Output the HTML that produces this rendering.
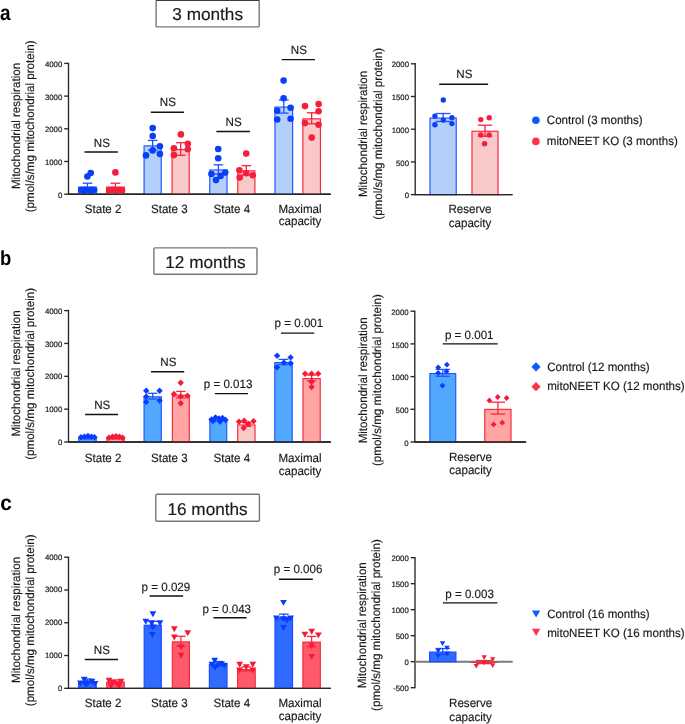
<!DOCTYPE html><html><head><meta charset="utf-8"><style>html,body{margin:0;padding:0;background:#fff;}svg{display:block;will-change:transform;text-rendering:geometricPrecision;}</style></head><body>
<svg width="685" height="724" viewBox="0 0 685 724" font-family='"Liberation Sans", sans-serif'>
<rect width="685" height="724" fill="#fff"/>
<text x="0" y="20.1" font-size="21.5" text-anchor="start" font-weight="bold" fill="#000"  transform="scale(0.88,1)">a</text>
<rect x="156.1" y="0.3" width="103.1" height="26.599999999999998" rx="1" fill="#fff" stroke="#777" stroke-width="1.4"/>
<text x="207.64999999999998" y="20.3" font-size="17.2" text-anchor="middle" font-weight="normal" fill="#1a1a1a" stroke="#1a1a1a" stroke-width="0.16" >3 months</text>
<line x1="156.1" y1="0.5" x2="259.2" y2="0.5" stroke="#3c3c3c" stroke-width="1.0"/>
<text font-size="12.0" fill="#1a1a1a" stroke="#1a1a1a" stroke-width="0.16" text-anchor="middle" transform="translate(19.9,126.0) rotate(-90) scale(0.965,1)">Mitochondrial respiration</text>
<text font-size="12.0" fill="#1a1a1a" stroke="#1a1a1a" stroke-width="0.16" text-anchor="middle" transform="translate(33.7,126.4) rotate(-90) scale(0.965,1)">(pmol/s/mg mitochondrial protein)</text>
<line x1="68.5" y1="62.8" x2="68.5" y2="194.79999999999998" stroke="#262626" stroke-width="1.35"/>
<line x1="64.2" y1="194.2" x2="68.5" y2="194.2" stroke="#262626" stroke-width="1.35"/>
<text x="62.3" y="197.79999999999998" font-size="7.8" text-anchor="end" font-weight="normal" fill="#222"  stroke="#222" stroke-width="0.2">0</text>
<line x1="64.2" y1="161.5" x2="68.5" y2="161.5" stroke="#262626" stroke-width="1.35"/>
<text x="62.3" y="165.1" font-size="7.8" text-anchor="end" font-weight="normal" fill="#222"  stroke="#222" stroke-width="0.2">1000</text>
<line x1="64.2" y1="128.79999999999998" x2="68.5" y2="128.79999999999998" stroke="#262626" stroke-width="1.35"/>
<text x="62.3" y="132.39999999999998" font-size="7.8" text-anchor="end" font-weight="normal" fill="#222"  stroke="#222" stroke-width="0.2">2000</text>
<line x1="64.2" y1="96.09999999999998" x2="68.5" y2="96.09999999999998" stroke="#262626" stroke-width="1.35"/>
<text x="62.3" y="99.69999999999997" font-size="7.8" text-anchor="end" font-weight="normal" fill="#222"  stroke="#222" stroke-width="0.2">3000</text>
<line x1="64.2" y1="63.39999999999998" x2="68.5" y2="63.39999999999998" stroke="#262626" stroke-width="1.35"/>
<text x="62.3" y="66.99999999999997" font-size="7.8" text-anchor="end" font-weight="normal" fill="#222"  stroke="#222" stroke-width="0.2">4000</text>
<line x1="68.5" y1="194.2" x2="330.7" y2="194.2" stroke="#262626" stroke-width="1.35"/>
<rect x="78.675" y="187.075" width="17.550000000000004" height="7.1249999999999885" fill="#b3d0fa" stroke="#2050ff" stroke-width="1.15"/>
<line x1="87.44999999999999" y1="183.2" x2="87.44999999999999" y2="189.8" stroke="#2050ff" stroke-width="1.3"/>
<line x1="82.588" y1="183.2" x2="92.31199999999998" y2="183.2" stroke="#2050ff" stroke-width="1.3"/>
<line x1="82.588" y1="189.8" x2="92.31199999999998" y2="189.8" stroke="#2050ff" stroke-width="1.3"/>
<circle cx="90.7" cy="173" r="3.3" fill="#0a40f5"/>
<circle cx="87.4" cy="176.5" r="3.3" fill="#0a40f5"/>
<circle cx="81.3" cy="190" r="3.3" fill="#0a40f5"/>
<circle cx="84.5" cy="189.8" r="3.3" fill="#0a40f5"/>
<circle cx="88" cy="190" r="3.3" fill="#0a40f5"/>
<circle cx="91" cy="189.8" r="3.3" fill="#0a40f5"/>
<circle cx="94.2" cy="190" r="3.3" fill="#0a40f5"/>
<circle cx="84" cy="191" r="3.3" fill="#0a40f5"/>
<circle cx="91" cy="191" r="3.3" fill="#0a40f5"/>
<rect x="106.575" y="187.075" width="17.65" height="7.1249999999999885" fill="#f9c9c9" stroke="#f7223c" stroke-width="1.15"/>
<line x1="115.4" y1="183.2" x2="115.4" y2="189.8" stroke="#f7223c" stroke-width="1.3"/>
<line x1="110.512" y1="183.2" x2="120.28800000000001" y2="183.2" stroke="#f7223c" stroke-width="1.3"/>
<line x1="110.512" y1="189.8" x2="120.28800000000001" y2="189.8" stroke="#f7223c" stroke-width="1.3"/>
<circle cx="115.4" cy="172.4" r="3.3" fill="#f51f3c"/>
<circle cx="109.2" cy="190.3" r="3.3" fill="#f51f3c"/>
<circle cx="112.5" cy="190" r="3.3" fill="#f51f3c"/>
<circle cx="116" cy="190.5" r="3.3" fill="#f51f3c"/>
<circle cx="119" cy="190" r="3.3" fill="#f51f3c"/>
<circle cx="122" cy="190.3" r="3.3" fill="#f51f3c"/>
<rect x="144.075" y="145.875" width="17.150000000000013" height="48.324999999999974" fill="#b3d0fa" stroke="#2050ff" stroke-width="1.15"/>
<line x1="152.65" y1="140.4" x2="152.65" y2="150.20000000000002" stroke="#2050ff" stroke-width="1.3"/>
<line x1="147.892" y1="140.4" x2="157.40800000000002" y2="140.4" stroke="#2050ff" stroke-width="1.3"/>
<line x1="147.892" y1="150.20000000000002" x2="157.40800000000002" y2="150.20000000000002" stroke="#2050ff" stroke-width="1.3"/>
<circle cx="152.7" cy="128.1" r="3.3" fill="#0a40f5"/>
<circle cx="152.7" cy="136" r="3.3" fill="#0a40f5"/>
<circle cx="159.9" cy="146.2" r="3.3" fill="#0a40f5"/>
<circle cx="152.7" cy="150.4" r="3.3" fill="#0a40f5"/>
<circle cx="146" cy="155.4" r="3.3" fill="#0a40f5"/>
<circle cx="159.9" cy="153.9" r="3.3" fill="#0a40f5"/>
<rect x="172.075" y="149.575" width="17.150000000000013" height="44.624999999999986" fill="#f9c9c9" stroke="#f7223c" stroke-width="1.15"/>
<line x1="180.65" y1="142.7" x2="180.65" y2="155.3" stroke="#f7223c" stroke-width="1.3"/>
<line x1="175.892" y1="142.7" x2="185.40800000000002" y2="142.7" stroke="#f7223c" stroke-width="1.3"/>
<line x1="175.892" y1="155.3" x2="185.40800000000002" y2="155.3" stroke="#f7223c" stroke-width="1.3"/>
<circle cx="180.9" cy="134.4" r="3.3" fill="#f51f3c"/>
<circle cx="187.8" cy="143.8" r="3.3" fill="#f51f3c"/>
<circle cx="173.9" cy="148.2" r="3.3" fill="#f51f3c"/>
<circle cx="187.8" cy="149.3" r="3.3" fill="#f51f3c"/>
<circle cx="173.9" cy="155.1" r="3.3" fill="#f51f3c"/>
<rect x="209.77499999999998" y="169.975" width="17.250000000000007" height="24.224999999999984" fill="#b3d0fa" stroke="#2050ff" stroke-width="1.15"/>
<line x1="218.39999999999998" y1="164.8" x2="218.39999999999998" y2="174.0" stroke="#2050ff" stroke-width="1.3"/>
<line x1="213.61599999999999" y1="164.8" x2="223.18399999999997" y2="164.8" stroke="#2050ff" stroke-width="1.3"/>
<line x1="213.61599999999999" y1="174.0" x2="223.18399999999997" y2="174.0" stroke="#2050ff" stroke-width="1.3"/>
<circle cx="218.2" cy="149" r="3.3" fill="#0a40f5"/>
<circle cx="218.2" cy="158.2" r="3.3" fill="#0a40f5"/>
<circle cx="211.4" cy="174" r="3.3" fill="#0a40f5"/>
<circle cx="225.2" cy="172.6" r="3.3" fill="#0a40f5"/>
<circle cx="220.6" cy="175.9" r="3.3" fill="#0a40f5"/>
<circle cx="216" cy="180.1" r="3.3" fill="#0a40f5"/>
<rect x="237.77499999999998" y="170.875" width="17.150000000000013" height="23.324999999999978" fill="#f9c9c9" stroke="#f7223c" stroke-width="1.15"/>
<line x1="246.35" y1="165.7" x2="246.35" y2="174.90000000000003" stroke="#f7223c" stroke-width="1.3"/>
<line x1="241.59199999999998" y1="165.7" x2="251.108" y2="165.7" stroke="#f7223c" stroke-width="1.3"/>
<line x1="241.59199999999998" y1="174.90000000000003" x2="251.108" y2="174.90000000000003" stroke="#f7223c" stroke-width="1.3"/>
<circle cx="246.2" cy="153.6" r="3.3" fill="#f51f3c"/>
<circle cx="239.4" cy="170.3" r="3.3" fill="#f51f3c"/>
<circle cx="246.2" cy="173.3" r="3.3" fill="#f51f3c"/>
<circle cx="252.8" cy="175.3" r="3.3" fill="#f51f3c"/>
<circle cx="239.7" cy="177.6" r="3.3" fill="#f51f3c"/>
<rect x="274.97499999999997" y="107.075" width="17.650000000000013" height="87.12499999999999" fill="#b3d0fa" stroke="#2050ff" stroke-width="1.15"/>
<line x1="283.79999999999995" y1="99.9" x2="283.79999999999995" y2="113.1" stroke="#2050ff" stroke-width="1.3"/>
<line x1="278.912" y1="99.9" x2="288.68799999999993" y2="99.9" stroke="#2050ff" stroke-width="1.3"/>
<line x1="278.912" y1="113.1" x2="288.68799999999993" y2="113.1" stroke="#2050ff" stroke-width="1.3"/>
<circle cx="283.6" cy="80.6" r="3.3" fill="#0a40f5"/>
<circle cx="283.6" cy="98.3" r="3.3" fill="#0a40f5"/>
<circle cx="290.6" cy="107.8" r="3.3" fill="#0a40f5"/>
<circle cx="277.2" cy="110.7" r="3.3" fill="#0a40f5"/>
<circle cx="277.2" cy="119.5" r="3.3" fill="#0a40f5"/>
<circle cx="290.6" cy="118.8" r="3.3" fill="#0a40f5"/>
<rect x="302.875" y="118.875" width="17.54999999999999" height="75.32499999999999" fill="#f9c9c9" stroke="#f7223c" stroke-width="1.15"/>
<line x1="311.65" y1="112.8" x2="311.65" y2="123.8" stroke="#f7223c" stroke-width="1.3"/>
<line x1="306.78799999999995" y1="112.8" x2="316.512" y2="112.8" stroke="#f7223c" stroke-width="1.3"/>
<line x1="306.78799999999995" y1="123.8" x2="316.512" y2="123.8" stroke="#f7223c" stroke-width="1.3"/>
<circle cx="305" cy="106.1" r="3.3" fill="#f51f3c"/>
<circle cx="318.6" cy="104.1" r="3.3" fill="#f51f3c"/>
<circle cx="318.6" cy="111.2" r="3.3" fill="#f51f3c"/>
<circle cx="305" cy="123.1" r="3.3" fill="#f51f3c"/>
<circle cx="318.6" cy="124.8" r="3.3" fill="#f51f3c"/>
<circle cx="311.7" cy="137.6" r="3.3" fill="#f51f3c"/>
<line x1="84.5" y1="152" x2="117.9" y2="152" stroke="#111" stroke-width="1.4"/>
<text x="0" y="0" transform="translate(101.8,146.6) scale(0.965,1)" font-size="12.0" text-anchor="middle" font-weight="normal" fill="#1a1a1a" stroke="#1a1a1a" stroke-width="0.16" >NS</text>
<line x1="150.8" y1="112.3" x2="184.0" y2="112.3" stroke="#111" stroke-width="1.4"/>
<text x="0" y="0" transform="translate(167.8,106.3) scale(0.965,1)" font-size="12.0" text-anchor="middle" font-weight="normal" fill="#1a1a1a" stroke="#1a1a1a" stroke-width="0.16" >NS</text>
<line x1="216.4" y1="131.5" x2="249.9" y2="131.5" stroke="#111" stroke-width="1.4"/>
<text x="0" y="0" transform="translate(233.6,126.0) scale(0.965,1)" font-size="12.0" text-anchor="middle" font-weight="normal" fill="#1a1a1a" stroke="#1a1a1a" stroke-width="0.16" >NS</text>
<line x1="281.6" y1="59.6" x2="315.0" y2="59.6" stroke="#111" stroke-width="1.4"/>
<text x="0" y="0" transform="translate(298.8,53.6) scale(0.965,1)" font-size="12.0" text-anchor="middle" font-weight="normal" fill="#1a1a1a" stroke="#1a1a1a" stroke-width="0.16" >NS</text>
<line x1="68.5" y1="194.2" x2="330.7" y2="194.2" stroke="#262626" stroke-width="1.35"/>
<text x="0" y="0" transform="translate(103.1,212.7) scale(0.965,1)" font-size="12.0" text-anchor="middle" font-weight="normal" fill="#1a1a1a" stroke="#1a1a1a" stroke-width="0.16" >State 2</text>
<text x="0" y="0" transform="translate(169.3,212.7) scale(0.965,1)" font-size="12.0" text-anchor="middle" font-weight="normal" fill="#1a1a1a" stroke="#1a1a1a" stroke-width="0.16" >State 3</text>
<text x="0" y="0" transform="translate(231.8,212.7) scale(0.965,1)" font-size="12.0" text-anchor="middle" font-weight="normal" fill="#1a1a1a" stroke="#1a1a1a" stroke-width="0.16" >State 4</text>
<text x="0" y="0" transform="translate(300,212.7) scale(0.965,1)" font-size="12.0" text-anchor="middle" font-weight="normal" fill="#1a1a1a" stroke="#1a1a1a" stroke-width="0.16" >Maximal</text>
<text x="0" y="0" transform="translate(300,225.4) scale(0.965,1)" font-size="12.0" text-anchor="middle" font-weight="normal" fill="#1a1a1a" stroke="#1a1a1a" stroke-width="0.16" >capacity</text>
<text font-size="12.0" fill="#1a1a1a" stroke="#1a1a1a" stroke-width="0.16" text-anchor="middle" transform="translate(367.4,134.0) rotate(-90) scale(0.965,1)">Mitochondrial respiration</text>
<text font-size="12.0" fill="#1a1a1a" stroke="#1a1a1a" stroke-width="0.16" text-anchor="middle" transform="translate(382.0,133.8) rotate(-90) scale(0.965,1)">(pmol/s/mg mitochondrial protein)</text>
<line x1="415.2" y1="63.1" x2="415.2" y2="195.2" stroke="#262626" stroke-width="1.35"/>
<line x1="410.9" y1="194.6" x2="415.2" y2="194.6" stroke="#262626" stroke-width="1.35"/>
<text x="409.0" y="198.2" font-size="7.8" text-anchor="end" font-weight="normal" fill="#222"  stroke="#222" stroke-width="0.2">0</text>
<line x1="410.9" y1="161.89999999999998" x2="415.2" y2="161.89999999999998" stroke="#262626" stroke-width="1.35"/>
<text x="409.0" y="165.49999999999997" font-size="7.8" text-anchor="end" font-weight="normal" fill="#222"  stroke="#222" stroke-width="0.2">500</text>
<line x1="410.9" y1="129.2" x2="415.2" y2="129.2" stroke="#262626" stroke-width="1.35"/>
<text x="409.0" y="132.79999999999998" font-size="7.8" text-anchor="end" font-weight="normal" fill="#222"  stroke="#222" stroke-width="0.2">1000</text>
<line x1="410.9" y1="96.49999999999999" x2="415.2" y2="96.49999999999999" stroke="#262626" stroke-width="1.35"/>
<text x="409.0" y="100.09999999999998" font-size="7.8" text-anchor="end" font-weight="normal" fill="#222"  stroke="#222" stroke-width="0.2">1500</text>
<line x1="410.9" y1="63.79999999999998" x2="415.2" y2="63.79999999999998" stroke="#262626" stroke-width="1.35"/>
<text x="409.0" y="67.39999999999998" font-size="7.8" text-anchor="end" font-weight="normal" fill="#222"  stroke="#222" stroke-width="0.2">2000</text>
<line x1="415.2" y1="194.6" x2="512.5" y2="194.6" stroke="#262626" stroke-width="1.35"/>
<rect x="429.97499999999997" y="118.075" width="26.250000000000036" height="76.52499999999999" fill="#b3d0fa" stroke="#2050ff" stroke-width="1.15"/>
<line x1="443.1" y1="113.5" x2="443.1" y2="121.5" stroke="#2050ff" stroke-width="1.3"/>
<line x1="435.8" y1="113.5" x2="450.40000000000003" y2="113.5" stroke="#2050ff" stroke-width="1.3"/>
<line x1="435.8" y1="121.5" x2="450.40000000000003" y2="121.5" stroke="#2050ff" stroke-width="1.3"/>
<circle cx="443.3" cy="100" r="2.7" fill="#0a40f5"/>
<circle cx="434.9" cy="116.1" r="2.7" fill="#0a40f5"/>
<circle cx="451.9" cy="117.8" r="2.7" fill="#0a40f5"/>
<circle cx="443.3" cy="120.1" r="2.7" fill="#0a40f5"/>
<circle cx="434.9" cy="124.8" r="2.7" fill="#0a40f5"/>
<circle cx="451.9" cy="123.6" r="2.7" fill="#0a40f5"/>
<rect x="471.97499999999997" y="131.27499999999998" width="26.050000000000047" height="63.325" fill="#f9c9c9" stroke="#f7223c" stroke-width="1.15"/>
<line x1="485.0" y1="125.2" x2="485.0" y2="136.2" stroke="#f7223c" stroke-width="1.3"/>
<line x1="477.8" y1="125.2" x2="492.2" y2="125.2" stroke="#f7223c" stroke-width="1.3"/>
<line x1="477.8" y1="136.2" x2="492.2" y2="136.2" stroke="#f7223c" stroke-width="1.3"/>
<circle cx="480.8" cy="119.6" r="2.7" fill="#f51f3c"/>
<circle cx="489.2" cy="117.8" r="2.7" fill="#f51f3c"/>
<circle cx="480.8" cy="135" r="2.7" fill="#f51f3c"/>
<circle cx="489.2" cy="135" r="2.7" fill="#f51f3c"/>
<circle cx="484.6" cy="143.8" r="2.7" fill="#f51f3c"/>
<line x1="439.2" y1="84.3" x2="488.1" y2="84.3" stroke="#111" stroke-width="1.4"/>
<text x="0" y="0" transform="translate(464.4,78.1) scale(0.965,1)" font-size="12.0" text-anchor="middle" font-weight="normal" fill="#1a1a1a" stroke="#1a1a1a" stroke-width="0.16" >NS</text>
<line x1="415.2" y1="194.6" x2="512.5" y2="194.6" stroke="#262626" stroke-width="1.35"/>
<text x="0" y="0" transform="translate(470,213) scale(0.965,1)" font-size="12.0" text-anchor="middle" font-weight="normal" fill="#1a1a1a" stroke="#1a1a1a" stroke-width="0.16" >Reserve</text>
<text x="0" y="0" transform="translate(470,226.6) scale(0.965,1)" font-size="12.0" text-anchor="middle" font-weight="normal" fill="#1a1a1a" stroke="#1a1a1a" stroke-width="0.16" >capacity</text>
<circle cx="535.9" cy="120.2" r="3.8" fill="#0a5cff"/>
<circle cx="535.9" cy="141.4" r="3.8" fill="#ff3346"/>
<text x="0" y="0" transform="translate(546.8,124.3) scale(0.965,1)" font-size="12.0" text-anchor="start" font-weight="normal" fill="#1a1a1a" stroke="#1a1a1a" stroke-width="0.16" >Control (3 months)</text>
<text x="0" y="0" transform="translate(546.8,144.7) scale(0.965,1)" font-size="12.0" text-anchor="start" font-weight="normal" fill="#1a1a1a" stroke="#1a1a1a" stroke-width="0.16" >mitoNEET KO (3 months)</text>
<text x="0" y="265" font-size="20.5" text-anchor="start" font-weight="bold" fill="#000"  transform="scale(0.9,1)">b</text>
<rect x="153.9" y="247.9" width="103.1" height="26.299999999999983" rx="1" fill="#fff" stroke="#777" stroke-width="1.4"/>
<text x="205.45" y="267.6" font-size="17.2" text-anchor="middle" font-weight="normal" fill="#1a1a1a" stroke="#1a1a1a" stroke-width="0.16" >12 months</text>
<text font-size="12.0" fill="#1a1a1a" stroke="#1a1a1a" stroke-width="0.16" text-anchor="middle" transform="translate(19.9,373.5) rotate(-90) scale(0.965,1)">Mitochondrial respiration</text>
<text font-size="12.0" fill="#1a1a1a" stroke="#1a1a1a" stroke-width="0.16" text-anchor="middle" transform="translate(33.7,373.9) rotate(-90) scale(0.965,1)">(pmol/s/mg mitochondrial protein)</text>
<line x1="68.5" y1="309.9" x2="68.5" y2="442.6" stroke="#262626" stroke-width="1.35"/>
<line x1="64.2" y1="442.0" x2="68.5" y2="442.0" stroke="#262626" stroke-width="1.35"/>
<text x="62.3" y="445.1" font-size="7.8" text-anchor="end" font-weight="normal" fill="#222"  stroke="#222" stroke-width="0.2">0</text>
<line x1="64.2" y1="409.15" x2="68.5" y2="409.15" stroke="#262626" stroke-width="1.35"/>
<text x="62.3" y="412.25" font-size="7.8" text-anchor="end" font-weight="normal" fill="#222"  stroke="#222" stroke-width="0.2">1000</text>
<line x1="64.2" y1="376.3" x2="68.5" y2="376.3" stroke="#262626" stroke-width="1.35"/>
<text x="62.3" y="379.40000000000003" font-size="7.8" text-anchor="end" font-weight="normal" fill="#222"  stroke="#222" stroke-width="0.2">2000</text>
<line x1="64.2" y1="343.45" x2="68.5" y2="343.45" stroke="#262626" stroke-width="1.35"/>
<text x="62.3" y="346.55" font-size="7.8" text-anchor="end" font-weight="normal" fill="#222"  stroke="#222" stroke-width="0.2">3000</text>
<line x1="64.2" y1="310.6" x2="68.5" y2="310.6" stroke="#262626" stroke-width="1.35"/>
<text x="62.3" y="313.70000000000005" font-size="7.8" text-anchor="end" font-weight="normal" fill="#222"  stroke="#222" stroke-width="0.2">4000</text>
<line x1="68.5" y1="442.0" x2="330.8" y2="442.0" stroke="#262626" stroke-width="1.35"/>
<rect x="78.675" y="438.075" width="17.550000000000004" height="3.925" fill="#52a8ff" stroke="#1f55ff" stroke-width="1.15"/>
<line x1="87.44999999999999" y1="436" x2="87.44999999999999" y2="439.0" stroke="#1f55ff" stroke-width="1.3"/>
<line x1="82.588" y1="436" x2="92.31199999999998" y2="436" stroke="#1f55ff" stroke-width="1.3"/>
<line x1="82.588" y1="439.0" x2="92.31199999999998" y2="439.0" stroke="#1f55ff" stroke-width="1.3"/>
<path d="M81 434.1L84.2 437.3L81 440.5L77.8 437.3Z" fill="#0a3cff"/>
<path d="M84.5 433.40000000000003L87.7 436.6L84.5 439.8L81.3 436.6Z" fill="#0a3cff"/>
<path d="M88 432.8L91.2 436.0L88 439.2L84.8 436.0Z" fill="#0a3cff"/>
<path d="M91.5 433.6L94.7 436.8L91.5 440.0L88.3 436.8Z" fill="#0a3cff"/>
<path d="M94.5 434.1L97.7 437.3L94.5 440.5L91.3 437.3Z" fill="#0a3cff"/>
<rect x="106.775" y="438.075" width="17.449999999999996" height="3.925" fill="#ffa3a3" stroke="#f7283e" stroke-width="1.15"/>
<line x1="115.5" y1="436" x2="115.5" y2="439.0" stroke="#f7283e" stroke-width="1.3"/>
<line x1="110.664" y1="436" x2="120.336" y2="436" stroke="#f7283e" stroke-width="1.3"/>
<line x1="110.664" y1="439.0" x2="120.336" y2="439.0" stroke="#f7283e" stroke-width="1.3"/>
<path d="M109 434.6L112.2 437.8L109 441.0L105.8 437.8Z" fill="#f71a38"/>
<path d="M112.5 433.6L115.7 436.8L112.5 440.0L109.3 436.8Z" fill="#f71a38"/>
<path d="M116 433.1L119.2 436.3L116 439.5L112.8 436.3Z" fill="#f71a38"/>
<path d="M119.5 433.6L122.7 436.8L119.5 440.0L116.3 436.8Z" fill="#f71a38"/>
<path d="M122.5 434.6L125.7 437.8L122.5 441.0L119.3 437.8Z" fill="#f71a38"/>
<rect x="144.075" y="396.775" width="17.250000000000007" height="45.22500000000001" fill="#52a8ff" stroke="#1f55ff" stroke-width="1.15"/>
<line x1="152.7" y1="393.3" x2="152.7" y2="399.09999999999997" stroke="#1f55ff" stroke-width="1.3"/>
<line x1="147.916" y1="393.3" x2="157.48399999999998" y2="393.3" stroke="#1f55ff" stroke-width="1.3"/>
<line x1="147.916" y1="399.09999999999997" x2="157.48399999999998" y2="399.09999999999997" stroke="#1f55ff" stroke-width="1.3"/>
<path d="M146.2 387.5L149.39999999999998 390.7L146.2 393.9L143.0 390.7Z" fill="#0a3cff"/>
<path d="M159.6 387.5L162.79999999999998 390.7L159.6 393.9L156.4 390.7Z" fill="#0a3cff"/>
<path d="M146.2 393.40000000000003L149.39999999999998 396.6L146.2 399.8L143.0 396.6Z" fill="#0a3cff"/>
<path d="M159.6 397.40000000000003L162.79999999999998 400.6L159.6 403.8L156.4 400.6Z" fill="#0a3cff"/>
<path d="M146.2 398.7L149.39999999999998 401.9L146.2 405.09999999999997L143.0 401.9Z" fill="#0a3cff"/>
<rect x="172.375" y="395.175" width="16.949999999999996" height="46.824999999999974" fill="#ffa3a3" stroke="#f7283e" stroke-width="1.15"/>
<line x1="180.85000000000002" y1="391.4" x2="180.85000000000002" y2="397.80000000000007" stroke="#f7283e" stroke-width="1.3"/>
<line x1="176.14400000000003" y1="391.4" x2="185.556" y2="391.4" stroke="#f7283e" stroke-width="1.3"/>
<line x1="176.14400000000003" y1="397.80000000000007" x2="185.556" y2="397.80000000000007" stroke="#f7283e" stroke-width="1.3"/>
<path d="M180.7 379.6L183.89999999999998 382.8L180.7 386.0L177.5 382.8Z" fill="#f71a38"/>
<path d="M174 390.8L177.2 394L174 397.2L170.8 394Z" fill="#f71a38"/>
<path d="M187.5 392.5L190.7 395.7L187.5 398.9L184.3 395.7Z" fill="#f71a38"/>
<path d="M180.7 393.40000000000003L183.89999999999998 396.6L180.7 399.8L177.5 396.6Z" fill="#f71a38"/>
<path d="M180.7 400.0L183.89999999999998 403.2L180.7 406.4L177.5 403.2Z" fill="#f71a38"/>
<rect x="209.875" y="420.075" width="16.85" height="21.925" fill="#52a8ff" stroke="#1f55ff" stroke-width="1.15"/>
<line x1="218.3" y1="418" x2="218.3" y2="421.0" stroke="#1f55ff" stroke-width="1.3"/>
<line x1="213.62" y1="418" x2="222.98000000000002" y2="418" stroke="#1f55ff" stroke-width="1.3"/>
<line x1="213.62" y1="421.0" x2="222.98000000000002" y2="421.0" stroke="#1f55ff" stroke-width="1.3"/>
<path d="M211.5 416.3L214.7 419.5L211.5 422.7L208.3 419.5Z" fill="#0a3cff"/>
<path d="M215.5 414.3L218.7 417.5L215.5 420.7L212.3 417.5Z" fill="#0a3cff"/>
<path d="M219 415.3L222.2 418.5L219 421.7L215.8 418.5Z" fill="#0a3cff"/>
<path d="M222.5 414.8L225.7 418L222.5 421.2L219.3 418Z" fill="#0a3cff"/>
<path d="M225.5 416.8L228.7 420L225.5 423.2L222.3 420Z" fill="#0a3cff"/>
<path d="M213 417.8L216.2 421L213 424.2L209.8 421Z" fill="#0a3cff"/>
<path d="M220 418.3L223.2 421.5L220 424.7L216.8 421.5Z" fill="#0a3cff"/>
<rect x="237.67499999999998" y="424.97499999999997" width="17.35" height="17.025000000000023" fill="#f9caca" stroke="#f7283e" stroke-width="1.15"/>
<line x1="246.35" y1="422.5" x2="246.35" y2="426.29999999999995" stroke="#f7283e" stroke-width="1.3"/>
<line x1="241.54" y1="422.5" x2="251.16" y2="422.5" stroke="#f7283e" stroke-width="1.3"/>
<line x1="241.54" y1="426.29999999999995" x2="251.16" y2="426.29999999999995" stroke="#f7283e" stroke-width="1.3"/>
<path d="M239 418.6L242.2 421.8L239 425.0L235.8 421.8Z" fill="#f71a38"/>
<path d="M244.2 417.5L247.39999999999998 420.7L244.2 423.9L241.0 420.7Z" fill="#f71a38"/>
<path d="M248.3 420.6L251.5 423.8L248.3 427.0L245.10000000000002 423.8Z" fill="#f71a38"/>
<path d="M253.5 418.1L256.7 421.3L253.5 424.5L250.3 421.3Z" fill="#f71a38"/>
<path d="M243.7 424.8L246.89999999999998 428L243.7 431.2L240.5 428Z" fill="#f71a38"/>
<rect x="274.775" y="362.575" width="17.450000000000024" height="79.425" fill="#52a8ff" stroke="#1f55ff" stroke-width="1.15"/>
<line x1="283.5" y1="359.4" x2="283.5" y2="364.6" stroke="#1f55ff" stroke-width="1.3"/>
<line x1="278.664" y1="359.4" x2="288.336" y2="359.4" stroke="#1f55ff" stroke-width="1.3"/>
<line x1="278.664" y1="364.6" x2="288.336" y2="364.6" stroke="#1f55ff" stroke-width="1.3"/>
<path d="M277.1 352.5L280.3 355.7L277.1 358.9L273.90000000000003 355.7Z" fill="#0a3cff"/>
<path d="M290.6 354.2L293.8 357.4L290.6 360.59999999999997L287.40000000000003 357.4Z" fill="#0a3cff"/>
<path d="M284 359.40000000000003L287.2 362.6L284 365.8L280.8 362.6Z" fill="#0a3cff"/>
<path d="M290.6 360.1L293.8 363.3L290.6 366.5L287.40000000000003 363.3Z" fill="#0a3cff"/>
<path d="M277.1 364.0L280.3 367.2L277.1 370.4L273.90000000000003 367.2Z" fill="#0a3cff"/>
<rect x="302.97499999999997" y="378.575" width="17.250000000000036" height="63.425" fill="#ffa3a3" stroke="#f7283e" stroke-width="1.15"/>
<line x1="311.6" y1="375.1" x2="311.6" y2="380.9" stroke="#f7283e" stroke-width="1.3"/>
<line x1="306.81600000000003" y1="375.1" x2="316.384" y2="375.1" stroke="#f7283e" stroke-width="1.3"/>
<line x1="306.81600000000003" y1="380.9" x2="316.384" y2="380.9" stroke="#f7283e" stroke-width="1.3"/>
<path d="M305.1 370.6L308.3 373.8L305.1 377.0L301.90000000000003 373.8Z" fill="#f71a38"/>
<path d="M311.6 370.6L314.8 373.8L311.6 377.0L308.40000000000003 373.8Z" fill="#f71a38"/>
<path d="M318.2 370.6L321.4 373.8L318.2 377.0L315.0 373.8Z" fill="#f71a38"/>
<path d="M311.6 378.5L314.8 381.7L311.6 384.9L308.40000000000003 381.7Z" fill="#f71a38"/>
<path d="M311.6 383.8L314.8 387L311.6 390.2L308.40000000000003 387Z" fill="#f71a38"/>
<line x1="85.1" y1="414.5" x2="118.1" y2="414.5" stroke="#111" stroke-width="1.4"/>
<text x="0" y="0" transform="translate(102.2,409.0) scale(0.965,1)" font-size="12.0" text-anchor="middle" font-weight="normal" fill="#1a1a1a" stroke="#1a1a1a" stroke-width="0.16" >NS</text>
<line x1="151.0" y1="371.7" x2="184.2" y2="371.7" stroke="#111" stroke-width="1.4"/>
<text x="0" y="0" transform="translate(168.3,365.8) scale(0.965,1)" font-size="12.0" text-anchor="middle" font-weight="normal" fill="#1a1a1a" stroke="#1a1a1a" stroke-width="0.16" >NS</text>
<line x1="214.9" y1="393.6" x2="248.0" y2="393.6" stroke="#111" stroke-width="1.4"/>
<text x="0" y="0" transform="translate(228.1,387.8) scale(0.965,1)" font-size="12.0" text-anchor="middle" font-weight="normal" fill="#1a1a1a" stroke="#1a1a1a" stroke-width="0.16" >p = 0.013</text>
<line x1="281.0" y1="333.1" x2="314.3" y2="333.1" stroke="#111" stroke-width="1.4"/>
<text x="0" y="0" transform="translate(298.9,327.2) scale(0.965,1)" font-size="12.0" text-anchor="middle" font-weight="normal" fill="#1a1a1a" stroke="#1a1a1a" stroke-width="0.16" >p = 0.001</text>
<line x1="68.5" y1="442.0" x2="330.8" y2="442.0" stroke="#262626" stroke-width="1.35"/>
<text x="0" y="0" transform="translate(103.1,462.1) scale(0.965,1)" font-size="12.0" text-anchor="middle" font-weight="normal" fill="#1a1a1a" stroke="#1a1a1a" stroke-width="0.16" >State 2</text>
<text x="0" y="0" transform="translate(169.3,462.1) scale(0.965,1)" font-size="12.0" text-anchor="middle" font-weight="normal" fill="#1a1a1a" stroke="#1a1a1a" stroke-width="0.16" >State 3</text>
<text x="0" y="0" transform="translate(231.8,462.1) scale(0.965,1)" font-size="12.0" text-anchor="middle" font-weight="normal" fill="#1a1a1a" stroke="#1a1a1a" stroke-width="0.16" >State 4</text>
<text x="0" y="0" transform="translate(300,462.1) scale(0.965,1)" font-size="12.0" text-anchor="middle" font-weight="normal" fill="#1a1a1a" stroke="#1a1a1a" stroke-width="0.16" >Maximal</text>
<text x="0" y="0" transform="translate(300,475.1) scale(0.965,1)" font-size="12.0" text-anchor="middle" font-weight="normal" fill="#1a1a1a" stroke="#1a1a1a" stroke-width="0.16" >capacity</text>
<text font-size="12.0" fill="#1a1a1a" stroke="#1a1a1a" stroke-width="0.16" text-anchor="middle" transform="translate(367.4,380.3) rotate(-90) scale(0.965,1)">Mitochondrial respiration</text>
<text font-size="12.0" fill="#1a1a1a" stroke="#1a1a1a" stroke-width="0.16" text-anchor="middle" transform="translate(381.3,380.1) rotate(-90) scale(0.965,1)">(pmol/s/mg mitochondrial protein)</text>
<line x1="414.8" y1="310.5" x2="414.8" y2="442.6" stroke="#262626" stroke-width="1.35"/>
<line x1="410.5" y1="442.0" x2="414.8" y2="442.0" stroke="#262626" stroke-width="1.35"/>
<text x="408.6" y="445.6" font-size="7.8" text-anchor="end" font-weight="normal" fill="#222"  stroke="#222" stroke-width="0.2">0</text>
<line x1="410.5" y1="409.3" x2="414.8" y2="409.3" stroke="#262626" stroke-width="1.35"/>
<text x="408.6" y="412.90000000000003" font-size="7.8" text-anchor="end" font-weight="normal" fill="#222"  stroke="#222" stroke-width="0.2">500</text>
<line x1="410.5" y1="376.6" x2="414.8" y2="376.6" stroke="#262626" stroke-width="1.35"/>
<text x="408.6" y="380.20000000000005" font-size="7.8" text-anchor="end" font-weight="normal" fill="#222"  stroke="#222" stroke-width="0.2">1000</text>
<line x1="410.5" y1="343.9" x2="414.8" y2="343.9" stroke="#262626" stroke-width="1.35"/>
<text x="408.6" y="347.5" font-size="7.8" text-anchor="end" font-weight="normal" fill="#222"  stroke="#222" stroke-width="0.2">1500</text>
<line x1="410.5" y1="311.2" x2="414.8" y2="311.2" stroke="#262626" stroke-width="1.35"/>
<text x="408.6" y="314.8" font-size="7.8" text-anchor="end" font-weight="normal" fill="#222"  stroke="#222" stroke-width="0.2">2000</text>
<line x1="414.8" y1="442.0" x2="526.1" y2="442.0" stroke="#262626" stroke-width="1.35"/>
<rect x="429.875" y="373.575" width="25.85" height="68.425" fill="#52a8ff" stroke="#1f55ff" stroke-width="1.15"/>
<line x1="442.8" y1="369.4" x2="442.8" y2="376.3" stroke="#1f55ff" stroke-width="1.3"/>
<line x1="435.55" y1="369.4" x2="450.05" y2="369.4" stroke="#1f55ff" stroke-width="1.3"/>
<line x1="435.55" y1="376.3" x2="450.05" y2="376.3" stroke="#1f55ff" stroke-width="1.3"/>
<path d="M446.9 361.8L449.79999999999995 364.7L446.9 367.59999999999997L444.0 364.7Z" fill="#0a3cff"/>
<path d="M438.2 364.5L441.09999999999997 367.4L438.2 370.29999999999995L435.3 367.4Z" fill="#0a3cff"/>
<path d="M438.2 370.1L441.09999999999997 373L438.2 375.9L435.3 373Z" fill="#0a3cff"/>
<path d="M446.5 368.6L449.4 371.5L446.5 374.4L443.6 371.5Z" fill="#0a3cff"/>
<path d="M442.4 382.70000000000005L445.29999999999995 385.6L442.4 388.5L439.5 385.6Z" fill="#0a3cff"/>
<rect x="484.775" y="409.375" width="26.250000000000036" height="32.624999999999986" fill="#ffa3a3" stroke="#f7283e" stroke-width="1.15"/>
<line x1="497.9" y1="402.2" x2="497.9" y2="414" stroke="#f7283e" stroke-width="1.3"/>
<line x1="490.65" y1="402.2" x2="505.15" y2="402.2" stroke="#f7283e" stroke-width="1.3"/>
<line x1="490.65" y1="414" x2="505.15" y2="414" stroke="#f7283e" stroke-width="1.3"/>
<path d="M489.4 397.6L492.29999999999995 400.5L489.4 403.4L486.5 400.5Z" fill="#f71a38"/>
<path d="M497.7 394.1L500.59999999999997 397L497.7 399.9L494.8 397Z" fill="#f71a38"/>
<path d="M506.6 395.1L509.5 398L506.6 400.9L503.70000000000005 398Z" fill="#f71a38"/>
<path d="M493.6 421.5L496.5 424.4L493.6 427.29999999999995L490.70000000000005 424.4Z" fill="#f71a38"/>
<path d="M502.3 419.8L505.2 422.7L502.3 425.59999999999997L499.40000000000003 422.7Z" fill="#f71a38"/>
<line x1="442.8" y1="343.9" x2="497.7" y2="343.9" stroke="#111" stroke-width="1.4"/>
<text x="0" y="0" transform="translate(469.2,339.0) scale(0.965,1)" font-size="12.0" text-anchor="middle" font-weight="normal" fill="#1a1a1a" stroke="#1a1a1a" stroke-width="0.16" >p = 0.001</text>
<line x1="414.8" y1="442.0" x2="526.1" y2="442.0" stroke="#262626" stroke-width="1.35"/>
<text x="0" y="0" transform="translate(470.5,460.6) scale(0.965,1)" font-size="12.0" text-anchor="middle" font-weight="normal" fill="#1a1a1a" stroke="#1a1a1a" stroke-width="0.16" >Reserve</text>
<text x="0" y="0" transform="translate(470.5,474.2) scale(0.965,1)" font-size="12.0" text-anchor="middle" font-weight="normal" fill="#1a1a1a" stroke="#1a1a1a" stroke-width="0.16" >capacity</text>
<path d="M536 362.2L540.6 366.8L536 371.40000000000003L531.4 366.8Z" fill="#0a5cff"/>
<path d="M536 382.09999999999997L540.6 386.7L536 391.3L531.4 386.7Z" fill="#ff3346"/>
<text x="0" y="0" transform="translate(547.2,371.0) scale(0.965,1)" font-size="12.0" text-anchor="start" font-weight="normal" fill="#1a1a1a" stroke="#1a1a1a" stroke-width="0.16" >Control (12 months)</text>
<text x="0" y="0" transform="translate(547.2,390.2) scale(0.965,1)" font-size="12.0" text-anchor="start" font-weight="normal" fill="#1a1a1a" stroke="#1a1a1a" stroke-width="0.16" >mitoNEET KO (12 months)</text>
<text x="0.2" y="509.9" font-size="21.5" text-anchor="start" font-weight="bold" fill="#000"  transform="scale(0.97,1)">c</text>
<rect x="155.8" y="494.3" width="103.59999999999997" height="26.900000000000034" rx="1" fill="#fff" stroke="#777" stroke-width="1.4"/>
<text x="207.6" y="514.5" font-size="17.2" text-anchor="middle" font-weight="normal" fill="#1a1a1a" stroke="#1a1a1a" stroke-width="0.16" >16 months</text>
<text font-size="12.0" fill="#1a1a1a" stroke="#1a1a1a" stroke-width="0.16" text-anchor="middle" transform="translate(19.9,619.9) rotate(-90) scale(0.965,1)">Mitochondrial respiration</text>
<text font-size="12.0" fill="#1a1a1a" stroke="#1a1a1a" stroke-width="0.16" text-anchor="middle" transform="translate(33.7,620.3) rotate(-90) scale(0.965,1)">(pmol/s/mg mitochondrial protein)</text>
<line x1="68.5" y1="556.6" x2="68.5" y2="688.9" stroke="#262626" stroke-width="1.35"/>
<line x1="64.2" y1="688.3" x2="68.5" y2="688.3" stroke="#262626" stroke-width="1.35"/>
<text x="62.3" y="690.6999999999999" font-size="7.8" text-anchor="end" font-weight="normal" fill="#222"  stroke="#222" stroke-width="0.2">0</text>
<line x1="64.2" y1="655.53" x2="68.5" y2="655.53" stroke="#262626" stroke-width="1.35"/>
<text x="62.3" y="657.93" font-size="7.8" text-anchor="end" font-weight="normal" fill="#222"  stroke="#222" stroke-width="0.2">1000</text>
<line x1="64.2" y1="622.76" x2="68.5" y2="622.76" stroke="#262626" stroke-width="1.35"/>
<text x="62.3" y="625.16" font-size="7.8" text-anchor="end" font-weight="normal" fill="#222"  stroke="#222" stroke-width="0.2">2000</text>
<line x1="64.2" y1="589.99" x2="68.5" y2="589.99" stroke="#262626" stroke-width="1.35"/>
<text x="62.3" y="592.39" font-size="7.8" text-anchor="end" font-weight="normal" fill="#222"  stroke="#222" stroke-width="0.2">3000</text>
<line x1="64.2" y1="557.2199999999999" x2="68.5" y2="557.2199999999999" stroke="#262626" stroke-width="1.35"/>
<text x="62.3" y="559.6199999999999" font-size="7.8" text-anchor="end" font-weight="normal" fill="#222"  stroke="#222" stroke-width="0.2">4000</text>
<line x1="68.5" y1="688.3" x2="330.8" y2="688.3" stroke="#262626" stroke-width="1.35"/>
<rect x="78.675" y="681.575" width="17.550000000000004" height="6.724999999999954" fill="#2f6bff" stroke="#1a4cff" stroke-width="1.15"/>
<line x1="87.44999999999999" y1="679" x2="87.44999999999999" y2="683.0" stroke="#1a4cff" stroke-width="1.3"/>
<line x1="82.588" y1="679" x2="92.31199999999998" y2="679" stroke="#1a4cff" stroke-width="1.3"/>
<line x1="82.588" y1="683.0" x2="92.31199999999998" y2="683.0" stroke="#1a4cff" stroke-width="1.3"/>
<path d="M80.8 676.8225L87.60000000000001 676.8225L84.2 682.7725Z" fill="#0a3cff"/>
<path d="M77.1 680.6225L83.9 680.6225L80.5 686.5725Z" fill="#0a3cff"/>
<path d="M84.6 680.3225L91.4 680.3225L88 686.2725Z" fill="#0a3cff"/>
<path d="M88.6 678.8225L95.4 678.8225L92 684.7725Z" fill="#0a3cff"/>
<path d="M91.6 681.1225L98.4 681.1225L95 687.0725Z" fill="#0a3cff"/>
<path d="M82.6 682.3225L89.4 682.3225L86 688.2725Z" fill="#0a3cff"/>
<rect x="106.775" y="682.075" width="17.449999999999996" height="6.224999999999954" fill="#ff5a6c" stroke="#f7283e" stroke-width="1.15"/>
<line x1="115.5" y1="680" x2="115.5" y2="683.0" stroke="#f7283e" stroke-width="1.3"/>
<line x1="110.664" y1="680" x2="120.336" y2="680" stroke="#f7283e" stroke-width="1.3"/>
<line x1="110.664" y1="683.0" x2="120.336" y2="683.0" stroke="#f7283e" stroke-width="1.3"/>
<path d="M105.6 677.8225L112.4 677.8225L109 683.7725Z" fill="#f71a38"/>
<path d="M109.6 679.8225L116.4 679.8225L113 685.7725Z" fill="#f71a38"/>
<path d="M113.6 681.3225L120.4 681.3225L117 687.2725Z" fill="#f71a38"/>
<path d="M117.6 678.8225L124.4 678.8225L121 684.7725Z" fill="#f71a38"/>
<path d="M107.6 683.3225L114.4 683.3225L111 689.2725Z" fill="#f71a38"/>
<path d="M115.6 683.3225L122.4 683.3225L119 689.2725Z" fill="#f71a38"/>
<rect x="144.17499999999998" y="625.2750000000001" width="17.150000000000013" height="63.024999999999906" fill="#2f6bff" stroke="#1a4cff" stroke-width="1.15"/>
<line x1="152.75" y1="621.4" x2="152.75" y2="628.0000000000001" stroke="#1a4cff" stroke-width="1.3"/>
<line x1="147.992" y1="621.4" x2="157.508" y2="621.4" stroke="#1a4cff" stroke-width="1.3"/>
<line x1="147.992" y1="628.0000000000001" x2="157.508" y2="628.0000000000001" stroke="#1a4cff" stroke-width="1.3"/>
<path d="M149.5 611.3225L156.3 611.3225L152.9 617.2725Z" fill="#0a3cff"/>
<path d="M142.4 618.7225L149.20000000000002 618.7225L145.8 624.6725Z" fill="#0a3cff"/>
<path d="M156.5 620.3225L163.3 620.3225L159.9 626.2725Z" fill="#0a3cff"/>
<path d="M148.2 620.3225L155.0 620.3225L151.6 626.2725Z" fill="#0a3cff"/>
<path d="M149.5 624.5225L156.3 624.5225L152.9 630.4725000000001Z" fill="#0a3cff"/>
<path d="M149.0 632.0225L155.8 632.0225L152.4 637.9725000000001Z" fill="#0a3cff"/>
<rect x="172.375" y="641.875" width="17.04999999999999" height="46.425" fill="#ff5a6c" stroke="#f7283e" stroke-width="1.15"/>
<line x1="180.9" y1="636.3" x2="180.9" y2="646.3" stroke="#f7283e" stroke-width="1.3"/>
<line x1="176.168" y1="636.3" x2="185.632" y2="636.3" stroke="#f7283e" stroke-width="1.3"/>
<line x1="176.168" y1="646.3" x2="185.632" y2="646.3" stroke="#f7283e" stroke-width="1.3"/>
<path d="M170.9 626.2225L177.70000000000002 626.2225L174.3 632.1725Z" fill="#f71a38"/>
<path d="M184.29999999999998 630.3225L191.1 630.3225L187.7 636.2725Z" fill="#f71a38"/>
<path d="M170.9 634.5225L177.70000000000002 634.5225L174.3 640.4725000000001Z" fill="#f71a38"/>
<path d="M177.7 644.4225L184.5 644.4225L181.1 650.3725000000001Z" fill="#f71a38"/>
<path d="M177.7 652.7225L184.5 652.7225L181.1 658.6725Z" fill="#f71a38"/>
<rect x="209.375" y="664.2750000000001" width="17.649999999999984" height="24.02499999999991" fill="#2f6bff" stroke="#1a4cff" stroke-width="1.15"/>
<line x1="218.2" y1="661.5" x2="218.2" y2="665.9000000000001" stroke="#1a4cff" stroke-width="1.3"/>
<line x1="213.31199999999998" y1="661.5" x2="223.088" y2="661.5" stroke="#1a4cff" stroke-width="1.3"/>
<line x1="213.31199999999998" y1="665.9000000000001" x2="223.088" y2="665.9000000000001" stroke="#1a4cff" stroke-width="1.3"/>
<path d="M211.29999999999998 657.7225L218.1 657.7225L214.7 663.6725Z" fill="#0a3cff"/>
<path d="M208.6 661.8225L215.4 661.8225L212 667.7725Z" fill="#0a3cff"/>
<path d="M214.6 662.3225L221.4 662.3225L218 668.2725Z" fill="#0a3cff"/>
<path d="M218.1 661.3225L224.9 661.3225L221.5 667.2725Z" fill="#0a3cff"/>
<path d="M221.1 662.8225L227.9 662.8225L224.5 668.7725Z" fill="#0a3cff"/>
<path d="M211.6 664.8225L218.4 664.8225L215 670.7725Z" fill="#0a3cff"/>
<rect x="237.575" y="669.575" width="17.650000000000013" height="18.724999999999955" fill="#ff5a6c" stroke="#f7283e" stroke-width="1.15"/>
<line x1="246.4" y1="667" x2="246.4" y2="671.0" stroke="#f7283e" stroke-width="1.3"/>
<line x1="241.512" y1="667" x2="251.288" y2="667" stroke="#f7283e" stroke-width="1.3"/>
<line x1="241.512" y1="671.0" x2="251.288" y2="671.0" stroke="#f7283e" stroke-width="1.3"/>
<path d="M236.29999999999998 661.7225L243.1 661.7225L239.7 667.6725Z" fill="#f71a38"/>
<path d="M249.4 661.7225L256.2 661.7225L252.8 667.6725Z" fill="#f71a38"/>
<path d="M242.79999999999998 664.3225L249.6 664.3225L246.2 670.2725Z" fill="#f71a38"/>
<path d="M236.29999999999998 667.6225L243.1 667.6225L239.7 673.5725Z" fill="#f71a38"/>
<path d="M249.4 667.6225L256.2 667.6225L252.8 673.5725Z" fill="#f71a38"/>
<rect x="274.97499999999997" y="617.2750000000001" width="17.550000000000047" height="71.0249999999999" fill="#2f6bff" stroke="#1a4cff" stroke-width="1.15"/>
<line x1="283.75" y1="614.1" x2="283.75" y2="619.3000000000001" stroke="#1a4cff" stroke-width="1.3"/>
<line x1="278.888" y1="614.1" x2="288.612" y2="614.1" stroke="#1a4cff" stroke-width="1.3"/>
<line x1="278.888" y1="619.3000000000001" x2="288.612" y2="619.3000000000001" stroke="#1a4cff" stroke-width="1.3"/>
<path d="M280.1 599.9225L286.9 599.9225L283.5 605.8725000000001Z" fill="#0a3cff"/>
<path d="M273.0 615.5225L279.79999999999995 615.5225L276.4 621.4725000000001Z" fill="#0a3cff"/>
<path d="M287.1 615.5225L293.9 615.5225L290.5 621.4725000000001Z" fill="#0a3cff"/>
<path d="M280.1 616.3225L286.9 616.3225L283.5 622.2725Z" fill="#0a3cff"/>
<path d="M283.6 617.5225L290.4 617.5225L287 623.4725000000001Z" fill="#0a3cff"/>
<path d="M280.1 625.1225L286.9 625.1225L283.5 631.0725Z" fill="#0a3cff"/>
<rect x="302.875" y="642.075" width="17.449999999999967" height="46.22499999999995" fill="#ff5a6c" stroke="#f7283e" stroke-width="1.15"/>
<line x1="311.6" y1="636.4" x2="311.6" y2="646.6" stroke="#f7283e" stroke-width="1.3"/>
<line x1="306.764" y1="636.4" x2="316.43600000000004" y2="636.4" stroke="#f7283e" stroke-width="1.3"/>
<line x1="306.764" y1="646.6" x2="316.43600000000004" y2="646.6" stroke="#f7283e" stroke-width="1.3"/>
<path d="M301.5 631.7225L308.29999999999995 631.7225L304.9 637.6725Z" fill="#f71a38"/>
<path d="M308.3 628.8225L315.09999999999997 628.8225L311.7 634.7725Z" fill="#f71a38"/>
<path d="M315.0 632.4225L321.79999999999995 632.4225L318.4 638.3725000000001Z" fill="#f71a38"/>
<path d="M308.3 643.2225L315.09999999999997 643.2225L311.7 649.1725Z" fill="#f71a38"/>
<path d="M308.3 653.9225L315.09999999999997 653.9225L311.7 659.8725000000001Z" fill="#f71a38"/>
<line x1="84.8" y1="659.5" x2="118.1" y2="659.5" stroke="#111" stroke-width="1.4"/>
<text x="0" y="0" transform="translate(101.9,654.0) scale(0.965,1)" font-size="12.0" text-anchor="middle" font-weight="normal" fill="#1a1a1a" stroke="#1a1a1a" stroke-width="0.16" >NS</text>
<line x1="149.6" y1="596.0" x2="183.1" y2="596.0" stroke="#111" stroke-width="1.4"/>
<text x="0" y="0" transform="translate(165.9,590.7) scale(0.965,1)" font-size="12.0" text-anchor="middle" font-weight="normal" fill="#1a1a1a" stroke="#1a1a1a" stroke-width="0.16" >p = 0.029</text>
<line x1="213.4" y1="617.7" x2="246.6" y2="617.7" stroke="#111" stroke-width="1.4"/>
<text x="0" y="0" transform="translate(226.7,612.5) scale(0.965,1)" font-size="12.0" text-anchor="middle" font-weight="normal" fill="#1a1a1a" stroke="#1a1a1a" stroke-width="0.16" >p = 0.043</text>
<line x1="279.0" y1="579.2" x2="312.8" y2="579.2" stroke="#111" stroke-width="1.4"/>
<text x="0" y="0" transform="translate(298.1,573.4) scale(0.965,1)" font-size="12.0" text-anchor="middle" font-weight="normal" fill="#1a1a1a" stroke="#1a1a1a" stroke-width="0.16" >p = 0.006</text>
<line x1="68.5" y1="688.3" x2="330.8" y2="688.3" stroke="#262626" stroke-width="1.35"/>
<text x="0" y="0" transform="translate(103.1,706.9) scale(0.965,1)" font-size="12.0" text-anchor="middle" font-weight="normal" fill="#1a1a1a" stroke="#1a1a1a" stroke-width="0.16" >State 2</text>
<text x="0" y="0" transform="translate(169.3,706.9) scale(0.965,1)" font-size="12.0" text-anchor="middle" font-weight="normal" fill="#1a1a1a" stroke="#1a1a1a" stroke-width="0.16" >State 3</text>
<text x="0" y="0" transform="translate(231.8,706.9) scale(0.965,1)" font-size="12.0" text-anchor="middle" font-weight="normal" fill="#1a1a1a" stroke="#1a1a1a" stroke-width="0.16" >State 4</text>
<text x="0" y="0" transform="translate(300,706.9) scale(0.965,1)" font-size="12.0" text-anchor="middle" font-weight="normal" fill="#1a1a1a" stroke="#1a1a1a" stroke-width="0.16" >Maximal</text>
<text x="0" y="0" transform="translate(300,719.9) scale(0.965,1)" font-size="12.0" text-anchor="middle" font-weight="normal" fill="#1a1a1a" stroke="#1a1a1a" stroke-width="0.16" >capacity</text>
<text font-size="12.0" fill="#1a1a1a" stroke="#1a1a1a" stroke-width="0.16" text-anchor="middle" transform="translate(365.8,625.3) rotate(-90) scale(0.965,1)">Mitochondrial respiration</text>
<text font-size="12.0" fill="#1a1a1a" stroke="#1a1a1a" stroke-width="0.16" text-anchor="middle" transform="translate(379.6,625.0) rotate(-90) scale(0.965,1)">(pmol/s/mg mitochondrial protein)</text>
<line x1="415.0" y1="557.1" x2="415.0" y2="688.2" stroke="#262626" stroke-width="1.35"/>
<line x1="410.7" y1="687.7" x2="415.0" y2="687.7" stroke="#262626" stroke-width="1.35"/>
<text x="408.8" y="691.3000000000001" font-size="7.8" text-anchor="end" font-weight="normal" fill="#222"  stroke="#222" stroke-width="0.2">-500</text>
<line x1="410.7" y1="661.7" x2="415.0" y2="661.7" stroke="#262626" stroke-width="1.35"/>
<text x="408.8" y="665.3000000000001" font-size="7.8" text-anchor="end" font-weight="normal" fill="#222"  stroke="#222" stroke-width="0.2">0</text>
<line x1="410.7" y1="635.7" x2="415.0" y2="635.7" stroke="#262626" stroke-width="1.35"/>
<text x="408.8" y="639.3000000000001" font-size="7.8" text-anchor="end" font-weight="normal" fill="#222"  stroke="#222" stroke-width="0.2">500</text>
<line x1="410.7" y1="609.7" x2="415.0" y2="609.7" stroke="#262626" stroke-width="1.35"/>
<text x="408.8" y="613.3000000000001" font-size="7.8" text-anchor="end" font-weight="normal" fill="#222"  stroke="#222" stroke-width="0.2">1000</text>
<line x1="410.7" y1="583.7" x2="415.0" y2="583.7" stroke="#262626" stroke-width="1.35"/>
<text x="408.8" y="587.3000000000001" font-size="7.8" text-anchor="end" font-weight="normal" fill="#222"  stroke="#222" stroke-width="0.2">1500</text>
<line x1="410.7" y1="557.7" x2="415.0" y2="557.7" stroke="#262626" stroke-width="1.35"/>
<text x="408.8" y="561.3000000000001" font-size="7.8" text-anchor="end" font-weight="normal" fill="#222"  stroke="#222" stroke-width="0.2">2000</text>
<line x1="415.0" y1="661.8000000000001" x2="512.7" y2="661.8000000000001" stroke="#7a7a7a" stroke-width="1.9"/>
<rect x="429.575" y="652.075" width="26.35" height="9.625000000000046" fill="#2f6bff" stroke="#1a4cff" stroke-width="1.15"/>
<line x1="442.75" y1="648.5" x2="442.75" y2="654.5" stroke="#1a4cff" stroke-width="1.3"/>
<line x1="435.5" y1="648.5" x2="450.0" y2="648.5" stroke="#1a4cff" stroke-width="1.3"/>
<line x1="435.5" y1="654.5" x2="450.0" y2="654.5" stroke="#1a4cff" stroke-width="1.3"/>
<path d="M439.90000000000003 641.37375L445.3 641.37375L442.6 646.09875Z" fill="#0a3cff"/>
<path d="M444.3 645.77375L449.7 645.77375L447 650.49875Z" fill="#0a3cff"/>
<path d="M435.5 648.6737499999999L440.9 648.6737499999999L438.2 653.39875Z" fill="#0a3cff"/>
<path d="M435.5 653.77375L440.9 653.77375L438.2 658.49875Z" fill="#0a3cff"/>
<path d="M444.3 651.57375L449.7 651.57375L447 656.29875Z" fill="#0a3cff"/>
<line x1="470.4" y1="662.4" x2="497.8" y2="662.4" stroke="#f7283e" stroke-width="1.1"/>
<rect x="470.97499999999997" y="662.0" width="25.85" height="0.0" fill="#ff5a6c" stroke="#f7283e" stroke-width="1.15"/>
<line x1="483.9" y1="660.5" x2="483.9" y2="663.6" stroke="#f7283e" stroke-width="1.3"/>
<line x1="475.9" y1="660.5" x2="491.9" y2="660.5" stroke="#f7283e" stroke-width="1.3"/>
<line x1="475.9" y1="663.6" x2="491.9" y2="663.6" stroke="#f7283e" stroke-width="1.3"/>
<path d="M481.59999999999997 655.3525L486.8 655.3525L484.2 659.9025Z" fill="#f71a38"/>
<path d="M490.09999999999997 657.2524999999999L495.3 657.2524999999999L492.7 661.8025Z" fill="#f71a38"/>
<path d="M473.59999999999997 664.0525L478.8 664.0525L476.2 668.6025000000001Z" fill="#f71a38"/>
<path d="M481.59999999999997 660.8525L486.8 660.8525L484.2 665.4025Z" fill="#f71a38"/>
<path d="M490.09999999999997 663.3525L495.3 663.3525L492.7 667.9025Z" fill="#f71a38"/>
<line x1="442.9" y1="602.9" x2="497.4" y2="602.9" stroke="#111" stroke-width="1.4"/>
<text x="0" y="0" transform="translate(469.6,597.8) scale(0.965,1)" font-size="12.0" text-anchor="middle" font-weight="normal" fill="#1a1a1a" stroke="#1a1a1a" stroke-width="0.16" >p = 0.003</text>
<text x="0" y="0" transform="translate(470.6,707.4) scale(0.965,1)" font-size="12.0" text-anchor="middle" font-weight="normal" fill="#1a1a1a" stroke="#1a1a1a" stroke-width="0.16" >Reserve</text>
<text x="0" y="0" transform="translate(470.6,721.3) scale(0.965,1)" font-size="12.0" text-anchor="middle" font-weight="normal" fill="#1a1a1a" stroke="#1a1a1a" stroke-width="0.16" >capacity</text>
<path d="M532.0 610.5L540.2 610.5L536.1 617.5Z" fill="#0a5cff"/>
<path d="M532.0 628.7L540.2 628.7L536.1 636.0Z" fill="#ff3346"/>
<text x="0" y="0" transform="translate(547.2,618.2) scale(0.965,1)" font-size="12.0" text-anchor="start" font-weight="normal" fill="#1a1a1a" stroke="#1a1a1a" stroke-width="0.16" >Control (16 months)</text>
<text x="0" y="0" transform="translate(547.2,636.9) scale(0.965,1)" font-size="12.0" text-anchor="start" font-weight="normal" fill="#1a1a1a" stroke="#1a1a1a" stroke-width="0.16" >mitoNEET KO (16 months)</text>
</svg></body></html>
